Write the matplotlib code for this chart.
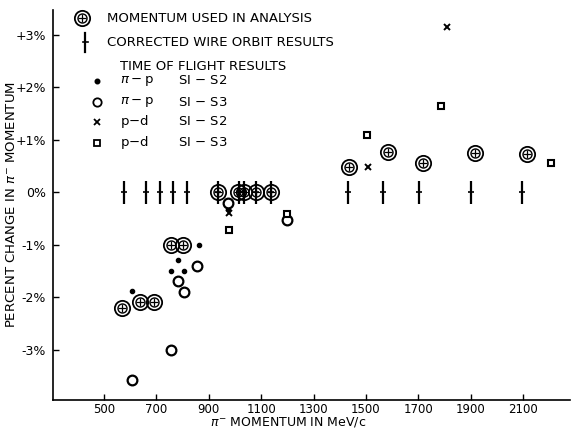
import matplotlib
matplotlib.use('Agg')
import matplotlib.pyplot as plt

# momentum used in analysis (circled plus)
used_x = [567, 637, 692, 756, 800, 934, 1010, 1036, 1079, 1137, 1435, 1585, 1716, 1917, 2113]
used_y = [-2.21, -2.09, -2.10, -1.00, -1.00, 0, 0, 0, 0, 0, 0.48, 0.76, 0.56, 0.75, 0.73]

# corrected wire orbit results
wire_x = [576, 659, 714, 762, 818, 936, 1015, 1036, 1079, 1137, 1431, 1566, 1703, 1901, 2094]
wire_y = [0] * len(wire_x)
wire_err = 0.22

# time of flight results
pip_s2_x = [607, 756, 781, 806, 863, 974]
pip_s2_y = [-1.89, -1.51, -1.30, -1.51, -1.00, -0.32]
pip_s3_x = [606, 756, 781, 804, 853, 974, 1200]
pip_s3_y = [-3.58, -3.00, -1.70, -1.91, -1.41, -0.20, -0.53]
pd_s2_x = [977, 1506, 1811]
pd_s2_y = [-0.40, 0.48, 3.15]
pd_s3_x = [977, 1200, 1505, 1785, 2206]
pd_s3_y = [-0.72, -0.42, 1.08, 1.64, 0.56]

x_ticks = [500, 700, 900, 1100, 1300, 1500, 1700, 1900, 2100]
y_ticks = [3, 2, 1, 0, -1, -2, -3]
y_tick_labels = ['+3%', '+2%', '+1%', '0%', '-1%', '-2%', '-3%']

W, H = 573, 429
fig = plt.figure(figsize=(W / 100, H / 100), dpi=100)
ax = fig.add_axes([53 / W, 1 - 400 / H, (570 - 53) / W, (400 - 10) / H])

def fx(px):
    return px / W

def fy(py):
    return 1 - py / H

# circled plus: outer ring, inner ring, plus sign
cp_styles = [dict(marker='o', ms=11, mfc='none', mec='black', mew=1.3),
             dict(marker='o', ms=6.5, mfc='none', mec='black', mew=1.0),
             dict(marker='+', ms=6, mec='black', mew=0.9)]

ax.errorbar(wire_x, wire_y, yerr=wire_err, fmt='_', ms=5, mew=1.2,
            color='black', elinewidth=1.6, capsize=0, zorder=2)
for st in cp_styles:
    ax.plot(used_x, used_y, ls='none', zorder=3, **st)
ax.plot(pip_s2_x, pip_s2_y, 'o', ms=3, color='black', ls='none')
ax.plot(pip_s3_x, pip_s3_y, 'o', ms=7, mfc='white', mec='black', mew=1.6, ls='none')
ax.plot(pd_s2_x, pd_s2_y, 'x', ms=4.5, mec='black', mew=1.4, ls='none')
ax.plot(pd_s3_x, pd_s3_y, 's', ms=4.5, mfc='white', mec='black', mew=1.5, ls='none')

ax.set_xlim(305, 2279)
ax.set_ylim(-3.96, 3.47)
ax.set_xticks(x_ticks)
ax.set_xticklabels([str(v) for v in x_ticks])
ax.set_yticks(y_ticks)
ax.set_yticklabels(y_tick_labels)
ax.tick_params(axis='both', direction='in', length=4, width=1, labelsize=9,
               colors='black')
ax.tick_params(axis='y', pad=5)
ax.tick_params(axis='x', pad=2, labelsize=8.5)
for s in ['top', 'right']:
    ax.spines[s].set_visible(False)
for s in ['left', 'bottom']:
    ax.spines[s].set_linewidth(1.2)

ax.set_ylabel(r'PERCENT CHANGE IN $\pi^{-}$ MOMENTUM', fontsize=9.5)
ax.yaxis.set_label_coords((18 - 53) / (570 - 53), 0.5)
ax.set_xlabel(r'$\pi^{-}$ MOMENTUM IN MeV/c', fontsize=9)
ax.xaxis.set_label_coords((288 - 53) / (570 - 53), -(428.8 - 400) / (400 - 10))
ax.xaxis.label.set_va('bottom')

# legend drawn as text in pixel positions
lfs = 9.5
for st in cp_styles:
    fig.add_artist(plt.Line2D([fx(82)], [fy(18)], ls='none', **st))
fig.add_artist(plt.Line2D([fx(85), fx(85)], [fy(33), fy(52)], color='black', lw=1.6))
fig.add_artist(plt.Line2D([fx(82.5), fx(87.5)], [fy(42), fy(42)], color='black', lw=1.2))
fig.text(fx(107), fy(18), 'MOMENTUM USED IN ANALYSIS', fontsize=lfs, va='center')
fig.text(fx(107), fy(43), 'CORRECTED WIRE ORBIT RESULTS', fontsize=lfs, va='center')
fig.text(fx(120), fy(66), 'TIME OF FLIGHT RESULTS', fontsize=lfs, va='center')

rows = [('o', 3, 'black', r'$\pi-$p', 'SI $-$ S2', 81),
        ('o', 6, 'white', r'$\pi-$p', 'SI $-$ S3', 102),
        ('x', 4, 'black', r'p$-$d', 'SI $-$ S2', 122),
        ('s', 4, 'white', r'p$-$d', 'SI $-$ S3', 143)]
for mk, ms, fc, reac, cnt, py in rows:
    fig.add_artist(plt.Line2D([fx(97)], [fy(py)], marker=mk, ms=ms, mfc=fc,
                              mec='black', mew=1.3, ls='none'))
    fig.text(fx(120), fy(py), reac, fontsize=lfs, va='center')
    fig.text(fx(178), fy(py), cnt, fontsize=lfs, va='center')

fig.savefig('out.png', dpi=100)
